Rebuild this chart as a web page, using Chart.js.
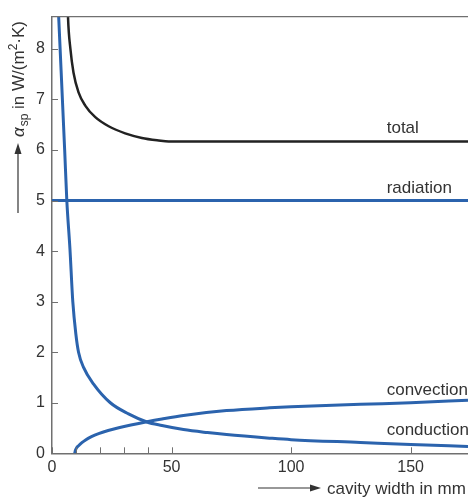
<!DOCTYPE html>
<html>
<head>
<meta charset="utf-8">
<script src="https://cdn.jsdelivr.net/npm/chart.js@4.4.1/dist/chart.umd.min.js"></script>
<style>
  html, body { margin: 0; padding: 0; background: #fff; overflow: hidden; }
</style>
</head>
<body>
<canvas id="chart" width="468" height="497"></canvas>
<script>
// ---- data (x in mm, y in W/(m2.K)) ----
const xTickValues = [0, 10, 20, 30, 40, 50, 100, 150];
const xTickLabels = [0, 50, 100, 150];
const yTickValues = [0, 1, 2, 3, 4, 5, 6, 7, 8];

const conductionX = [2.5, 2.8, 5.3, 6.2, 7.5, 8.7, 10, 11.1, 13.2, 17.4, 24.4, 32, 39.7, 46, 55, 65, 73, 91, 100, 129, 150, 174];
const conductionY = [8.95, 8.63, 6.0, 5.0, 4.05, 3.0, 2.35, 2.0, 1.7, 1.37, 1.0, 0.78, 0.62, 0.55, 0.47, 0.41, 0.37, 0.3, 0.27, 0.215, 0.175, 0.135];

const convectionX = [9.5, 9.8, 10.3, 11.1, 12.5, 13.9, 16.5, 19.5, 23.5, 27.9, 33, 39.7, 46, 55, 73, 91, 100, 129, 150, 174];
const convectionY = [0, 0.06, 0.11, 0.15, 0.21, 0.26, 0.33, 0.39, 0.45, 0.505, 0.56, 0.625, 0.68, 0.75, 0.845, 0.9, 0.92, 0.97, 1.0, 1.05];

const radiationX = [0, 174];
const radiationY = [5, 5];

const totalX = [6.5, 6.7, 7.7, 9.0, 11.1, 13.9, 18.1, 23.7, 30.6, 37.6, 44.6, 48.8, 60, 100, 174];
const totalY = [9.0, 8.63, 8.0, 7.53, 7.14, 6.88, 6.65, 6.47, 6.33, 6.24, 6.19, 6.17, 6.17, 6.17, 6.17];

const curveLabels = [
    { text: 'total', x: 140, y: 6.17, dy: -8 },
    { text: 'radiation', x: 140, y: 5, dy: -8 },
    { text: 'convection', x: 140, y: 0.98, dy: -9 },
    { text: 'conduction', x: 140, y: 0.2, dy: -8 }
];

const BLUE = '#2b63ad';
const INK = '#222';
const AXIS = '#707070';
const FONT = '"Liberation Sans", Arial, Helvetica, sans-serif';

function points(xs, ys) {
    return xs.map((x, i) => ({ x: x, y: ys[i] }));
}

function lineSet(label, xs, ys, color, width) {
    return {
        label: label,
        data: points(xs, ys),
        borderColor: color,
        borderWidth: width,
        pointRadius: 0,
        fill: false,
        cubicInterpolationMode: 'monotone',
        clip: 0
    };
}

// extra drawing: top frame, inward ticks, curve labels, axis titles
const decorPlugin = {
    id: 'decor',
    afterDraw(chart) {
        const ctx = chart.ctx;
        const area = chart.chartArea;
        const xs = chart.scales.x;
        const ys = chart.scales.y;
        ctx.save();

        // top frame line
        ctx.strokeStyle = AXIS;
        ctx.lineWidth = 1.2;
        ctx.beginPath();
        ctx.moveTo(area.left, area.top);
        ctx.lineTo(area.right, area.top);
        ctx.stroke();

        // inward tick marks
        ctx.lineWidth = 1;
        ctx.beginPath();
        xTickValues.forEach(v => {
            const px = Math.round(xs.getPixelForValue(v)) + 0.5;
            ctx.moveTo(px, area.bottom);
            ctx.lineTo(px, area.bottom - 6);
        });
        yTickValues.forEach(v => {
            const py = Math.round(ys.getPixelForValue(v)) + 0.5;
            ctx.moveTo(area.left, py);
            ctx.lineTo(area.left + 6, py);
        });
        ctx.stroke();

        // curve labels
        ctx.fillStyle = '#333';
        ctx.font = '17px ' + FONT;
        ctx.textAlign = 'left';
        ctx.textBaseline = 'alphabetic';
        curveLabels.forEach(l => {
            ctx.fillText(l.text, xs.getPixelForValue(l.x), ys.getPixelForValue(l.y) + l.dy);
        });

        // x axis title with arrow
        const xa = 258, xb = 321, xyLine = 488;
        ctx.strokeStyle = '#333';
        ctx.lineWidth = 1.2;
        ctx.beginPath();
        ctx.moveTo(xa, xyLine);
        ctx.lineTo(xb - 8, xyLine);
        ctx.stroke();
        ctx.beginPath();
        ctx.moveTo(xb, xyLine);
        ctx.lineTo(xb - 11, xyLine - 3.5);
        ctx.lineTo(xb - 11, xyLine + 3.5);
        ctx.closePath();
        ctx.fill();
        ctx.font = '17px ' + FONT;
        ctx.fillText('cavity width in mm', 327, 494);

        // y axis title, rotated, with arrow
        ctx.translate(24, 213);
        ctx.rotate(-Math.PI / 2);
        ctx.beginPath();
        ctx.moveTo(0, -6);
        ctx.lineTo(62, -6);
        ctx.stroke();
        ctx.beginPath();
        ctx.moveTo(70, -6);
        ctx.lineTo(59, -9.5);
        ctx.lineTo(59, -2.5);
        ctx.closePath();
        ctx.fill();
        let cx = 76;
        ctx.font = 'italic 17px ' + FONT;
        ctx.fillText('\u03b1', cx, 0);
        cx += ctx.measureText('\u03b1').width + 1;
        ctx.font = '12px ' + FONT;
        ctx.fillText('sp', cx, 4);
        cx += ctx.measureText('sp').width;
        ctx.font = '17px ' + FONT;
        ctx.fillText(' in W/(m', cx, 0);
        cx += ctx.measureText(' in W/(m').width;
        ctx.font = '12px ' + FONT;
        ctx.fillText('2', cx, -7);
        cx += ctx.measureText('2').width;
        ctx.font = '17px ' + FONT;
        ctx.fillText('\u00b7K)', cx, 0);

        ctx.restore();
    }
};

new Chart(document.getElementById('chart'), {
    type: 'line',
    data: {
        datasets: [
            lineSet('total', totalX, totalY, INK, 2.5),
            lineSet('radiation', radiationX, radiationY, BLUE, 3),
            lineSet('convection', convectionX, convectionY, BLUE, 3),
            lineSet('conduction', conductionX, conductionY, BLUE, 3)
        ]
    },
    options: {
        responsive: false,
        animation: false,
        devicePixelRatio: 1,
        layout: { padding: { top: 13, left: 0, right: 0, bottom: 0 } },
        plugins: {
            legend: { display: false },
            tooltip: { enabled: false }
        },
        scales: {
            x: {
                type: 'linear',
                min: 0,
                max: 174,
                afterBuildTicks: scale => { scale.ticks = xTickValues.map(v => ({ value: v })); },
                afterFit: scale => { scale.height = 43.7; },
                grid: { drawOnChartArea: false, drawTicks: false },
                border: { display: true, color: AXIS, width: 1.5 },
                ticks: {
                    autoSkip: false,
                    maxRotation: 0,
                    padding: 5,
                    color: '#333',
                    font: { family: FONT, size: 16 },
                    callback: v => xTickLabels.includes(v) ? String(v) : ''
                }
            },
            y: {
                type: 'linear',
                min: 0,
                max: 8.64,
                afterBuildTicks: scale => { scale.ticks = yTickValues.map(v => ({ value: v })); },
                afterFit: scale => { scale.width = 52; },
                grid: { drawOnChartArea: false, drawTicks: false },
                border: { display: true, color: AXIS, width: 1.5 },
                ticks: {
                    padding: 7,
                    color: '#333',
                    font: { family: FONT, size: 16 }
                }
            }
        }
    },
    plugins: [decorPlugin]
});
</script>
</body>
</html>
